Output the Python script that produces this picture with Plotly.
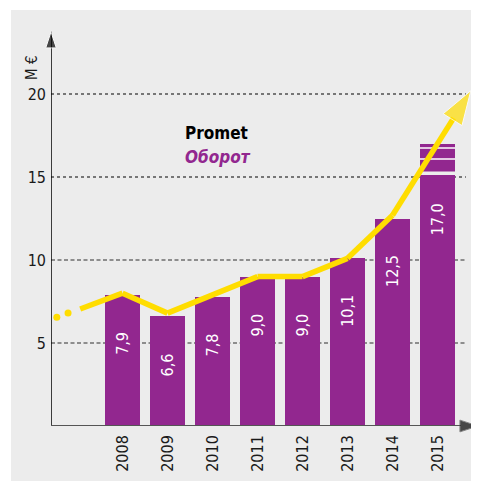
import plotly.graph_objects as go

# podaci (M €)
years = [2008, 2009, 2010, 2011, 2012, 2013, 2014, 2015]
turnover = [7.9, 6.6, 7.8, 9.0, 9.0, 10.1, 12.5, 17.0]
turnover_labels = ["7,9", "6,6", "7,8", "9,0", "9,0", "10,1", "12,5", "17,0"]

# žuta linija trenda (očitano sa slike)
trend_x = [2007.06, 2008, 2009, 2010, 2011, 2012, 2013, 2014, 2015.74]
trend_y = [7.05, 8.0, 6.8, 7.9, 9.0, 9.0, 10.1, 12.7, 20.2]
lead_x = [2006.54, 2006.79]
lead_y = [6.55, 6.8]

y_ticks = [5, 10, 15, 20]

PURPLE = "#92278f"
YELLOW = "#ffdd00"
BG = "#ececec"
FONT = "DejaVu Sans Condensed"

# stranica ima marginu od 8px, pa je figura za 8px manja
W, H = 471, 473
PL, PB = 43, 55          # lijevo i dolje (px figure)
PW, PH = W - PL, H - PB  # 428 x 418
X0, X1 = 2006.411, 2015.922
Y1 = PH / 16.6


def px(x):  # x u pikselima stranice -> paper
    return (x - 8 - PL) / PW


def py(y):  # y u pikselima stranice -> paper
    return (PH - (y - 8)) / PH


fig = go.Figure()

# stupci
fig.add_trace(go.Bar(x=years, y=turnover, width=0.778, marker_color=PURPLE,
                     marker_line_width=0, hoverinfo="skip"))

# bijele pruge na zadnjem stupcu
bw = 0.389
for yy, w in [(16.75, 1.5), (16.08, 1.5), (15.22, 3.5)]:
    fig.add_trace(go.Scatter(x=[years[-1] - bw, years[-1] + bw], y=[yy, yy], mode="lines",
                             line=dict(color=BG if w > 2 else "white", width=w),
                             cliponaxis=False, hoverinfo="skip"))

# osi sa strelicama
fig.add_trace(go.Scatter(x=[X0, X0], y=[-0.15, 23.75], mode="lines+markers",
                         line=dict(color="black", width=1.5),
                         marker=dict(symbol="arrow", size=[0, 17], color="black", angleref="previous"),
                         cliponaxis=False, hoverinfo="skip"))
fig.add_trace(go.Scatter(x=[2006.32, 2015.9], y=[0, 0], mode="lines+markers",
                         line=dict(color="#555555", width=2),
                         marker=dict(symbol="arrow", size=[0, 19], color="black", angleref="previous"),
                         cliponaxis=False, hoverinfo="skip"))

# linija trenda
fig.add_trace(go.Scatter(x=lead_x, y=lead_y, mode="markers",
                         marker=dict(color=YELLOW, size=7), cliponaxis=False, hoverinfo="skip"))
fig.add_trace(go.Scatter(x=trend_x, y=trend_y, mode="lines+markers",
                         line=dict(color=YELLOW, width=5.5),
                         marker=dict(symbol="arrow", size=[0] * (len(trend_x) - 1) + [36],
                                     color=YELLOW, angleref="previous"),
                         cliponaxis=False, hoverinfo="skip"))

# pozadina i mreža
shapes = [dict(type="rect", xref="paper", yref="paper", x0=px(11), x1=px(480), y0=py(482), y1=py(10),
               fillcolor=BG, line_width=0, layer="below")]
for t in y_ticks:
    dark = t >= 15
    shapes.append(dict(type="line", xref="x", yref="y", x0=X0, x1=2015.63, y0=t, y1=t, layer="below",
                       line=dict(color="black" if dark else "#6e6e6e", width=1 if dark else 1.6,
                                 dash="3px,3px" if dark else "4px,2.5px")))

annotations = []
for yr, v, lab in zip(years, turnover, turnover_labels):
    annotations.append(dict(x=yr, y=v, text=lab, showarrow=False, textangle=-90,
                            yanchor="top", yshift=-58 if yr == 2015 else -35,
                            font=dict(family=FONT, size=16, color="white")))

annotations += [
    dict(xref="paper", yref="paper", x=px(183), y=py(133), xanchor="left", yanchor="middle",
         text="<b>Promet</b>", showarrow=False, font=dict(family=FONT, size=17, color="black")),
    dict(xref="paper", yref="paper", x=px(183), y=py(157), xanchor="left", yanchor="middle",
         text="<b><i>Оборот</i></b>", showarrow=False, font=dict(family=FONT, size=17, color=PURPLE)),
    dict(xref="paper", yref="paper", x=px(32), y=py(68), xanchor="center", yanchor="middle",
         text="M €", textangle=-90, showarrow=False, font=dict(family=FONT, size=15, color="#1a1a1a")),
]

fig.update_layout(
    width=W, height=H,
    margin=dict(l=PL, r=0, t=0, b=PB),
    paper_bgcolor="white", plot_bgcolor="rgba(0,0,0,0)",
    showlegend=False, bargap=0,
    font=dict(family=FONT, size=16, color="#1a1a1a"),
    shapes=shapes, annotations=annotations,
    xaxis=dict(range=[X0, X1], tickvals=years, ticktext=[str(y) for y in years], tickangle=-90,
               showgrid=False, zeroline=False, showline=False, ticks="", ticklabelstandoff=5,
               fixedrange=True),
    yaxis=dict(range=[0, Y1], tickvals=y_ticks, showgrid=False, zeroline=False, showline=False,
               ticks="", ticklabelstandoff=4, fixedrange=True),
)

fig.write_html("out.html")
